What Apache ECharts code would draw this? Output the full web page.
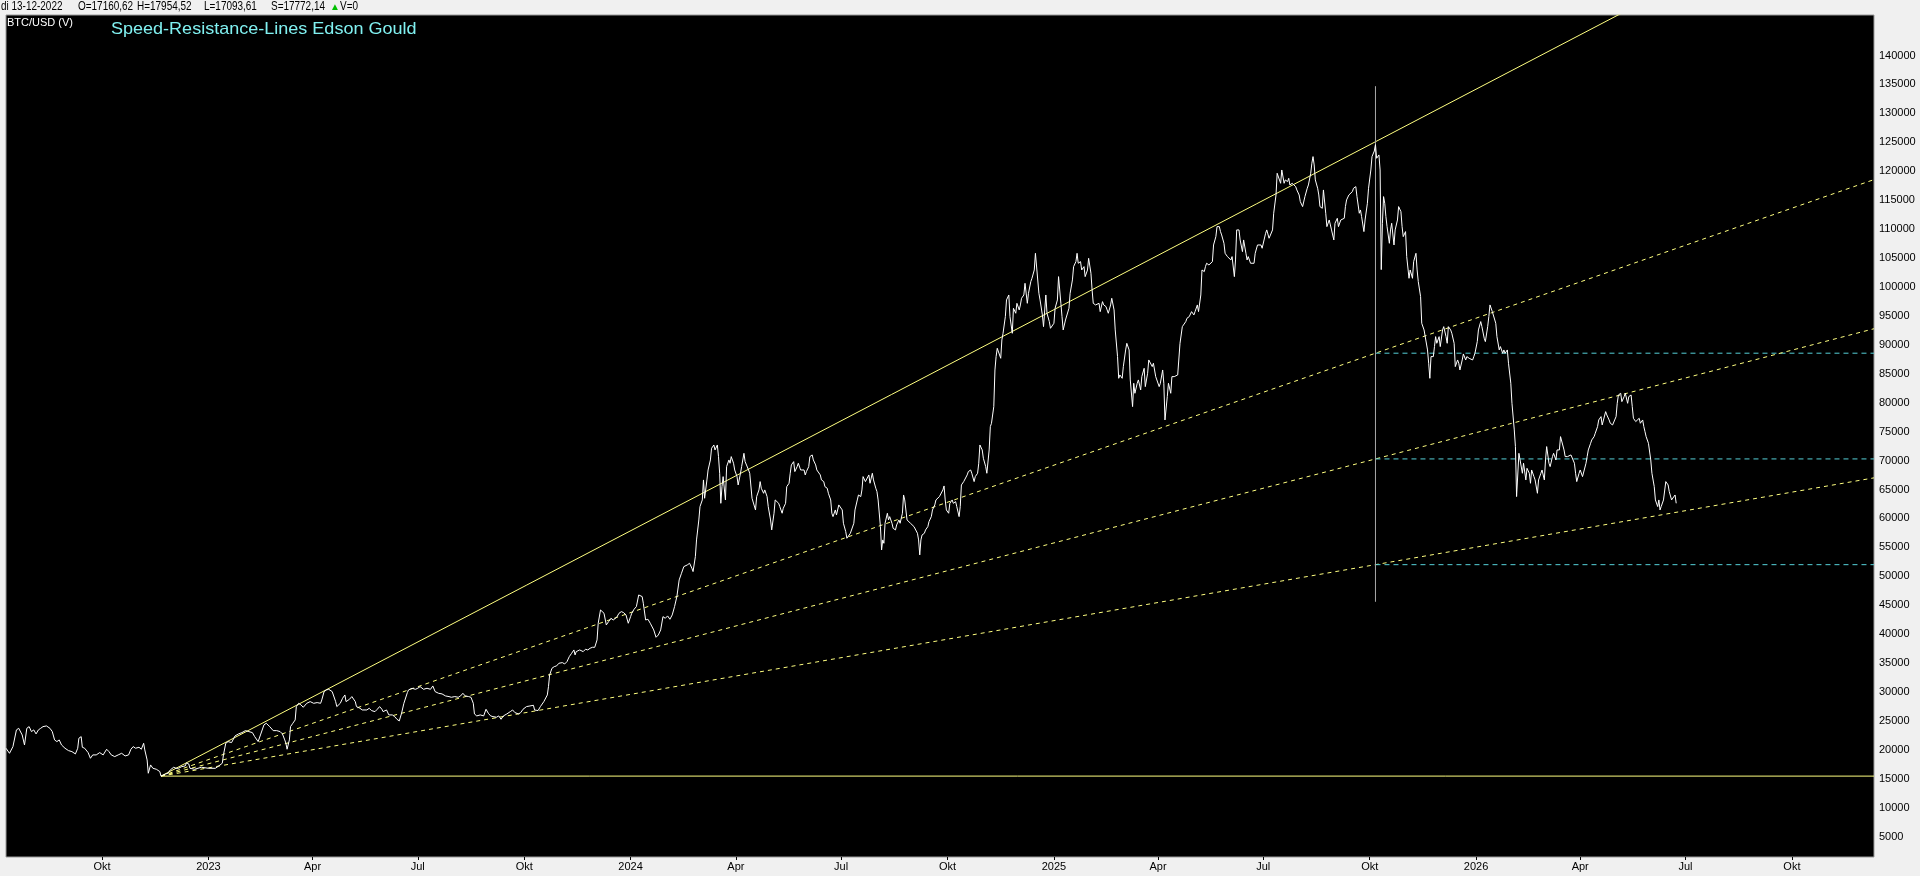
<!DOCTYPE html>
<html>
<head>
<meta charset="utf-8">
<title>BTC/USD Speed-Resistance-Lines</title>
<script src="https://cdn.jsdelivr.net/npm/echarts@6/dist/echarts.min.js"></script>
<style>
  html, body { margin: 0; padding: 0; background: #f0f0f0; }
  #chart { width: 1920px; height: 876px; }
</style>
</head>
<body>
<div id="chart"></div>
<script>
// x axis: one category per calendar day
const firstDay = '2022-07-10';
const lastDay = '2026-12-11';
const quarterNames = { '04': 'Apr', '07': 'Jul', '10': 'Okt' };
const yTickValues = [5000, 10000, 15000, 20000, 25000, 30000, 35000, 40000, 45000, 50000,
  55000, 60000, 65000, 70000, 75000, 80000, 85000, 90000, 95000, 100000, 105000, 110000,
  115000, 120000, 125000, 130000, 135000, 140000];

// BTC/USD closes
const price2022 = [
  ['2022-07-10',20290],['2022-07-13',19420],['2022-07-16',20580],['2022-07-19',23460],['2022-07-21',23740],['2022-07-24',22590],['2022-07-26',20860],['2022-07-28',23740],['2022-07-30',24030],
  ['2022-08-01',23170],['2022-08-03',23460],['2022-08-05',22770],['2022-08-07',23460],['2022-08-09',23740],['2022-08-11',24030],['2022-08-14',24150],['2022-08-17',23740],['2022-08-19',23170],['2022-08-21',21730],['2022-08-23',21440],['2022-08-25',21730],['2022-08-27',20860],['2022-08-30',20290],
  ['2022-09-02',19890],['2022-09-05',19710],['2022-09-08',19310],['2022-09-10',20290],['2022-09-11',22020],['2022-09-13',22300],['2022-09-14',20460],['2022-09-16',20290],['2022-09-19',19540],['2022-09-21',18560],['2022-09-23',19140],['2022-09-26',19140],['2022-09-29',19540],
  ['2022-10-02',19140],['2022-10-05',20120],['2022-10-07',19710],['2022-10-09',19140],['2022-10-12',18850],['2022-10-15',19140],['2022-10-18',19420],['2022-10-21',18960],['2022-10-24',19140],['2022-10-26',20120],['2022-10-28',20580],['2022-10-30',20290],
  ['2022-11-02',20460],['2022-11-04',20120],['2022-11-06',21150],['2022-11-07',20000],['2022-11-09',18270],['2022-11-10',15970],['2022-11-12',17410],['2022-11-14',16830],['2022-11-17',16660],['2022-11-20',16260],['2022-11-21',15480],['2022-11-25',15850],['2022-11-27',15970],['2022-11-29',16540],
  ['2022-12-02',17010],['2022-12-04',16830],['2022-12-06',16830],['2022-12-09',17120],['2022-12-12',17240],['2022-12-13',17770],['2022-12-15',17580],['2022-12-16',16830],['2022-12-20',16660],['2022-12-26',17010]
];
const price2023 = [
  ['2023-01-01',16830],['2023-01-07',16830],['2023-01-10',17240],['2023-01-13',17700],['2023-01-14',19140],['2023-01-16',21150],['2023-01-18',21440],['2023-01-21',21270],['2023-01-24',22420],['2023-01-27',22770],['2023-01-30',23000],
  ['2023-02-02',23340],['2023-02-05',23170],['2023-02-08',23000],['2023-02-10',22300],['2023-02-13',21440],['2023-02-15',22590],['2023-02-18',24320],['2023-02-20',24610],['2023-02-23',24030],['2023-02-26',23340],
  ['2023-03-01',23340],['2023-03-04',23170],['2023-03-06',22770],['2023-03-08',21730],['2023-03-09',21150],['2023-03-10',20120],['2023-03-12',21730],['2023-03-13',24030],['2023-03-15',24610],['2023-03-17',25180],['2023-03-18',27490],['2023-03-20',28060],['2023-03-22',27780],['2023-03-24',27370],['2023-03-27',28060],['2023-03-30',28350],
  ['2023-04-02',28060],['2023-04-05',28180],['2023-04-08',28060],['2023-04-09',28640],['2023-04-11',30080],['2023-04-13',30370],['2023-04-15',30480],['2023-04-16',30480],['2023-04-18',30080],['2023-04-19',29790],['2023-04-21',28350],['2023-04-22',27490],['2023-04-23',27200],['2023-04-25',28060],['2023-04-27',28930],['2023-04-29',29500],['2023-04-30',28350],
  ['2023-05-01',28060],['2023-05-03',28760],['2023-05-05',29220],['2023-05-06',29500],['2023-05-08',28350],['2023-05-09',27490],['2023-05-12',27200],['2023-05-14',26910],['2023-05-15',27200],['2023-05-18',26910],['2023-05-20',27200],['2023-05-22',26800],['2023-05-25',26620],['2023-05-27',27030],['2023-05-29',27490],['2023-05-31',27030],
  ['2023-06-01',26620],['2023-06-04',26910],['2023-06-06',26050],['2023-06-07',26220],['2023-06-09',26050],['2023-06-11',25760],['2023-06-13',25300],['2023-06-15',25010],['2023-06-17',26340],['2023-06-19',28060],['2023-06-22',29910],['2023-06-23',30370],['2023-06-26',30660],['2023-06-29',30480],
  ['2023-07-01',30660],['2023-07-03',30940],['2023-07-06',30480],['2023-07-09',30660],['2023-07-12',30480],['2023-07-14',31060],['2023-07-16',30080],['2023-07-19',29790],['2023-07-22',29680],['2023-07-25',29330],['2023-07-28',29220],['2023-07-30',29100],
  ['2023-08-02',29220],['2023-08-05',29100],['2023-08-07',29330],['2023-08-09',29790],['2023-08-11',29330],['2023-08-14',29220],['2023-08-16',29100],['2023-08-18',28060],['2023-08-19',26220],['2023-08-21',25880],['2023-08-24',26050],['2023-08-27',25880],['2023-08-29',27030],['2023-08-31',26340],
  ['2023-09-02',25880],['2023-09-04',25760],['2023-09-07',25650],['2023-09-09',25880],['2023-09-11',25300],['2023-09-13',25880],['2023-09-16',26220],['2023-09-19',26620],['2023-09-21',26910],['2023-09-23',26450],['2023-09-26',26220],['2023-09-28',26450],['2023-09-30',27030],
  ['2023-10-03',27490],['2023-10-06',27600],['2023-10-09',27720],['2023-10-10',26910],['2023-10-13',26800],['2023-10-15',27490],['2023-10-18',28350],['2023-10-21',29500],['2023-10-22',30940],['2023-10-23',32960],['2023-10-25',34110],['2023-10-27',34400],['2023-10-29',34520],['2023-10-31',34980],
  ['2023-11-03',35090],['2023-11-05',34860],['2023-11-07',35260],['2023-11-09',36130],['2023-11-11',36700],['2023-11-13',37280],['2023-11-14',36420],['2023-11-15',36990],['2023-11-18',37280],['2023-11-21',36990],['2023-11-23',37400],['2023-11-25',37280],['2023-11-27',37570],['2023-11-29',37740],
  ['2023-12-01',37740],['2023-12-03',39010],['2023-12-04',41890],['2023-12-06',44190],['2023-12-07',43900],['2023-12-09',43620],['2023-12-10',43330],['2023-12-11',41600],['2023-12-13',42180],['2023-12-15',42750],['2023-12-17',42460],['2023-12-20',42930],['2023-12-22',43620],['2023-12-24',43900],['2023-12-26',43730],['2023-12-28',43330],['2023-12-30',41890]
];
const price2024 = [
  ['2024-01-01',43040],['2024-01-02',43620],['2024-01-04',44310],['2024-01-06',44770],['2024-01-08',46780],['2024-01-09',47070],['2024-01-11',46500],['2024-01-12',45340],['2024-01-14',42460],['2024-01-16',42580],['2024-01-18',41890],['2024-01-21',40740],['2024-01-23',39470],['2024-01-25',39870],['2024-01-27',40740],['2024-01-29',43040],['2024-01-31',42750],
  ['2024-02-02',43160],['2024-02-04',42580],['2024-02-06',43330],['2024-02-08',44770],['2024-02-10',46500],['2024-02-12',49380],['2024-02-14',50530],['2024-02-16',51680],['2024-02-19',51970],['2024-02-21',52260],['2024-02-23',51390],['2024-02-24',50820],['2024-02-26',53410],['2024-02-27',56290],['2024-02-29',59740],
  ['2024-03-01',62050],['2024-03-03',63200],['2024-03-04',66660],['2024-03-05',63490],['2024-03-07',66660],['2024-03-08',68380],['2024-03-10',70110],['2024-03-11',72130],['2024-03-13',72700],['2024-03-14',71840],['2024-03-16',72700],['2024-03-17',70690],['2024-03-18',67810],['2024-03-19',62620],['2024-03-20',65500],['2024-03-21',67230],['2024-03-23',63200],['2024-03-24',68960],['2024-03-26',70110],['2024-03-27',69540],['2024-03-28',70690],['2024-03-30',69540],['2024-03-31',68380],
  ['2024-04-02',67230],['2024-04-03',65790],['2024-04-05',67810],['2024-04-06',68960],['2024-04-08',71260],['2024-04-09',69820],['2024-04-10',70110],['2024-04-12',68380],['2024-04-13',67810],['2024-04-15',63490],['2024-04-16',63200],['2024-04-18',61470],['2024-04-19',63780],['2024-04-21',64930],['2024-04-22',66370],['2024-04-23',65220],['2024-04-25',64350],['2024-04-26',64930],['2024-04-28',63780],['2024-04-29',62050],
  ['2024-05-01',59740],['2024-05-02',58020],['2024-05-04',60900],['2024-05-05',63200],['2024-05-06',63490],['2024-05-08',62620],['2024-05-09',62050],['2024-05-11',60900],['2024-05-12',61760],['2024-05-14',62620],['2024-05-15',65500],['2024-05-17',66080],['2024-05-18',67810],['2024-05-19',69250],['2024-05-21',69820],['2024-05-22',68100],['2024-05-24',68960],['2024-05-25',69540],['2024-05-27',68380],['2024-05-28',68100],['2024-05-30',68380],['2024-05-31',67520],
  ['2024-06-01',68100],['2024-06-03',68960],['2024-06-04',70690],['2024-06-06',70980],['2024-06-07',70110],['2024-06-09',69250],['2024-06-10',68380],['2024-06-11',68100],['2024-06-13',67520],['2024-06-14',66660],['2024-06-16',66370],['2024-06-17',65500],['2024-06-19',65220],['2024-06-20',64350],['2024-06-22',63200],['2024-06-23',60900],['2024-06-24',60320],['2024-06-26',61470],['2024-06-27',60610],['2024-06-29',62340],['2024-06-30',62620],
  ['2024-07-02',61470],['2024-07-03',59170],['2024-07-05',57730],['2024-07-06',56580],['2024-07-07',56860],['2024-07-09',57440],['2024-07-10',57730],['2024-07-12',59170],['2024-07-13',61470],['2024-07-15',63200],['2024-07-16',64060],['2024-07-18',63780],['2024-07-19',64930],['2024-07-20',67230],['2024-07-22',66370],['2024-07-23',66080],['2024-07-25',67520],['2024-07-26',66080],['2024-07-28',67810],['2024-07-29',66660],['2024-07-31',65220],
  ['2024-08-01',64640],['2024-08-02',63200],['2024-08-04',58590],['2024-08-05',54560],['2024-08-06',56290],['2024-08-07',55710],['2024-08-08',59170],['2024-08-10',60900],['2024-08-11',59740],['2024-08-12',60320],['2024-08-14',59170],['2024-08-15',58300],['2024-08-17',58020],['2024-08-18',58880],['2024-08-20',59740],['2024-08-21',59170],['2024-08-23',60900],['2024-08-24',64060],['2024-08-25',63200],['2024-08-27',59740],['2024-08-28',60030],['2024-08-30',59170],['2024-08-31',58880],
  ['2024-09-02',58590],['2024-09-03',58300],['2024-09-05',57440],['2024-09-06',56290],['2024-09-07',53700],['2024-09-08',56290],['2024-09-09',57150],['2024-09-11',57440],['2024-09-12',58020],['2024-09-14',58590],['2024-09-15',59460],['2024-09-17',60320],['2024-09-18',61470],['2024-09-20',62340],['2024-09-21',63200],['2024-09-22',63490],['2024-09-24',63780],['2024-09-25',64060],['2024-09-27',64930],['2024-09-28',65620],['2024-09-29',63200],['2024-09-30',61470],
  ['2024-10-02',60900],['2024-10-03',62620],['2024-10-05',63200],['2024-10-06',62620],['2024-10-08',62910],['2024-10-09',62050],['2024-10-11',60320],['2024-10-12',62050],['2024-10-13',65790],['2024-10-15',66370],['2024-10-16',66660],['2024-10-18',67520],['2024-10-19',68100],['2024-10-21',68380],['2024-10-22',67810],['2024-10-24',66370],['2024-10-25',67230],['2024-10-27',67810],['2024-10-28',69540],['2024-10-29',72700],['2024-10-31',71840],
  ['2024-11-01',70400],['2024-11-03',68960],['2024-11-04',67810],['2024-11-06',71840],['2024-11-07',75870],['2024-11-08',76450],['2024-11-10',79330],['2024-11-11',85660],['2024-11-12',87970],['2024-11-13',89410],['2024-11-14',89700],['2024-11-16',87680],['2024-11-17',90850],['2024-11-18',92000],['2024-11-20',94880],['2024-11-21',97760],['2024-11-23',98620],['2024-11-24',94880],['2024-11-26',92000],['2024-11-27',96320],['2024-11-29',95460],['2024-11-30',97180],
  ['2024-12-02',96030],['2024-12-03',96900],['2024-12-04',98050],['2024-12-06',98620],['2024-12-07',100640],['2024-12-09',97180],['2024-12-10',98910],['2024-12-12',100930],['2024-12-13',101500],['2024-12-15',102940],['2024-12-16',105820],['2024-12-17',105820],['2024-12-19',98910],['2024-12-20',97760],['2024-12-22',95170],['2024-12-23',93150],['2024-12-25',98620],['2024-12-26',95460],['2024-12-28',94020],['2024-12-29',92860],['2024-12-30',92580]
];
const price2025 = [
  ['2025-01-01',93730],['2025-01-02',96320],['2025-01-04',97760],['2025-01-05',101790],['2025-01-07',97180],['2025-01-08',94880],['2025-01-09',92580],['2025-01-11',94300],['2025-01-12',94590],['2025-01-14',96320],['2025-01-15',98910],['2025-01-17',101220],['2025-01-18',103520],['2025-01-20',104380],['2025-01-21',105820],['2025-01-22',104100],['2025-01-24',104380],['2025-01-25',102940],['2025-01-27',103520],['2025-01-28',101790],['2025-01-30',102940],['2025-01-31',104960],
  ['2025-02-02',102370],['2025-02-03',99490],['2025-02-04',97180],['2025-02-06',96900],['2025-02-07',96610],['2025-02-09',97180],['2025-02-10',95740],['2025-02-12',97470],['2025-02-13',96900],['2025-02-15',96610],['2025-02-16',96030],['2025-02-17',95460],['2025-02-19',96900],['2025-02-20',98050],['2025-02-22',96030],['2025-02-23',92580],['2025-02-25',87970],['2025-02-26',84220],['2025-02-27',84800],
  ['2025-03-01',84220],['2025-03-02',86240],['2025-03-04',89120],['2025-03-05',90270],['2025-03-07',89120],['2025-03-08',83940],['2025-03-10',79330],['2025-03-11',83360],['2025-03-12',81630],['2025-03-14',83360],['2025-03-15',83940],['2025-03-17',82210],['2025-03-18',84510],['2025-03-20',85950],['2025-03-21',82780],['2025-03-23',85090],['2025-03-24',87390],['2025-03-25',87390],['2025-03-27',86240],['2025-03-28',86820],['2025-03-30',84510],['2025-03-31',84800],
  ['2025-04-02',82780],['2025-04-03',83360],['2025-04-05',85660],['2025-04-06',83360],['2025-04-07',77020],['2025-04-09',81060],['2025-04-10',83360],['2025-04-12',81630],['2025-04-13',84510],['2025-04-15',84510],['2025-04-16',84800],['2025-04-18',84800],['2025-04-19',85090],['2025-04-20',90270],['2025-04-22',93150],['2025-04-23',93440],['2025-04-25',94020],['2025-04-26',94590],['2025-04-28',94880],['2025-04-29',94880],['2025-04-30',95740],
  ['2025-05-02',95170],['2025-05-03',95740],['2025-05-05',96900],['2025-05-06',95740],['2025-05-08',98620],['2025-05-09',102940],['2025-05-11',102660],['2025-05-12',103520],['2025-05-13',104100],['2025-05-15',103810],['2025-05-16',103520],['2025-05-18',104380],['2025-05-19',107260],['2025-05-21',108700],['2025-05-22',110430],['2025-05-24',110430],['2025-05-25',109570],['2025-05-26',108990],['2025-05-28',107550],['2025-05-29',105820],['2025-05-31',105250],
  ['2025-06-01',105250],['2025-06-03',104670],['2025-06-04',105250],['2025-06-06',101790],['2025-06-07',104670],['2025-06-08',109860],['2025-06-10',109860],['2025-06-11',108130],['2025-06-13',106110],['2025-06-14',108130],['2025-06-16',105820],['2025-06-17',104670],['2025-06-18',105250],['2025-06-20',104100],['2025-06-21',103810],['2025-06-23',104100],['2025-06-24',105820],['2025-06-26',107260],['2025-06-27',106980],['2025-06-29',107260],['2025-06-30',106690],
  ['2025-07-01',106400],['2025-07-03',109280],['2025-07-04',109860],['2025-07-06',108420],['2025-07-07',108130],['2025-07-09',109860],['2025-07-10',112740],['2025-07-12',115900],['2025-07-13',119650],['2025-07-14',119360],['2025-07-16',117920],['2025-07-17',120220],['2025-07-19',117920],['2025-07-20',118500],['2025-07-22',118210],['2025-07-23',118780],['2025-07-24',117630],['2025-07-26',117920],['2025-07-27',117630],['2025-07-29',117340],['2025-07-30',116770],
  ['2025-08-01',115900],['2025-08-02',114750],['2025-08-04',113890],['2025-08-05',113600],['2025-08-06',115620],['2025-08-08',117060],['2025-08-09',117630],['2025-08-11',119650],['2025-08-12',121380],['2025-08-13',122530],['2025-08-14',121090],['2025-08-15',118500],['2025-08-17',117060],['2025-08-18',115900],['2025-08-19',113890],['2025-08-21',113600],['2025-08-22',116770],['2025-08-24',112740],['2025-08-25',110430],['2025-08-27',111580],['2025-08-28',111870],['2025-08-29',109860],['2025-08-31',108130],
  ['2025-09-01',111010],['2025-09-03',111870],['2025-09-04',110430],['2025-09-06',111580],['2025-09-07',111300],['2025-09-09',111870],['2025-09-10',113890],['2025-09-11',115040],['2025-09-13',115900],['2025-09-14',116190],['2025-09-16',116480],['2025-09-17',117060],['2025-09-19',117340],['2025-09-20',115620],['2025-09-22',112740],['2025-09-23',113310],['2025-09-24',112160],['2025-09-26',109570],['2025-09-27',111580],['2025-09-29',114460],['2025-09-30',117060],
  ['2025-10-02',120220],['2025-10-03',122530],['2025-10-05',123500],['2025-10-06',124600],['2025-10-07',122240],['2025-10-09',122820],['2025-10-10',120220],['2025-10-11',103000],['2025-10-12',111010],['2025-10-13',115620],['2025-10-14',114460],['2025-10-15',112160],['2025-10-16',110430],['2025-10-18',107550],['2025-10-19',109860],['2025-10-20',111010],['2025-10-22',107260],['2025-10-23',109860],['2025-10-25',111580],['2025-10-26',113890],['2025-10-28',113020],['2025-10-29',110430],['2025-10-30',108700],
  ['2025-11-01',109570],['2025-11-02',105250],['2025-11-04',101500],['2025-11-05',102940],['2025-11-07',101500],['2025-11-08',104380],['2025-11-10',105820],['2025-11-11',102940],['2025-11-12',100930],['2025-11-14',98340],['2025-11-15',93730],['2025-11-17',92580],['2025-11-18',92290],['2025-11-20',89120],['2025-11-21',86820],['2025-11-22',84220],['2025-11-23',87970],['2025-11-25',87970],['2025-11-26',89700],['2025-11-27',91420],['2025-11-28',90270],['2025-11-30',91420],
  ['2025-12-01',89700],['2025-12-03',92580],['2025-12-04',93150],['2025-12-06',91420],['2025-12-07',90270],['2025-12-08',93150],['2025-12-10',92580],['2025-12-11',92000],['2025-12-13',90270],['2025-12-14',86240],['2025-12-16',87390],['2025-12-17',86820],['2025-12-18',85660],['2025-12-20',87390],['2025-12-21',88430],['2025-12-23',87390],['2025-12-24',87970],['2025-12-26',87680],['2025-12-27',87970],['2025-12-29',87390],['2025-12-30',87970],['2025-12-31',88540]
];
const price2026 = [
  ['2026-01-02',90560],['2026-01-03',92580],['2026-01-05',94020],['2026-01-06',93150],['2026-01-08',91140],['2026-01-09',90560],['2026-01-11',93150],['2026-01-12',94880],['2026-01-13',96900],['2026-01-15',95740],['2026-01-16',95460],['2026-01-18',93730],['2026-01-19',91420],['2026-01-21',89120],['2026-01-22',89700],['2026-01-24',88540],['2026-01-25',89120],['2026-01-26',88540],['2026-01-28',89120],['2026-01-29',86820],['2026-01-31',83360],
  ['2026-02-01',79900],['2026-02-03',75300],['2026-02-04',72420],['2026-02-05',63780],['2026-02-07',71260],['2026-02-08',70110],['2026-02-10',67810],['2026-02-11',69540],['2026-02-13',66660],['2026-02-14',68670],['2026-02-16',67810],['2026-02-17',66080],['2026-02-18',68380],['2026-02-20',67230],['2026-02-21',66660],['2026-02-23',64350],['2026-02-24',66660],['2026-02-26',67810],['2026-02-27',68380],
  ['2026-03-01',66660],['2026-03-02',70110],['2026-03-03',72420],['2026-03-05',69540],['2026-03-06',68960],['2026-03-08',70690],['2026-03-09',71260],['2026-03-11',70110],['2026-03-12',71840],['2026-03-14',71840],['2026-03-15',74140],['2026-03-16',74140],['2026-03-18',71840],['2026-03-19',70690],['2026-03-21',70690],['2026-03-22',70690],['2026-03-24',70980],['2026-03-25',70690],['2026-03-27',69540],['2026-03-28',67810],['2026-03-29',66370],['2026-03-31',67810],
  ['2026-04-01',68380],['2026-04-03',67230],['2026-04-04',67230],['2026-04-06',69540],['2026-04-07',70690],['2026-04-08',71840],['2026-04-10',72990],['2026-04-11',73570],['2026-04-13',74140],['2026-04-14',74720],['2026-04-16',75870],['2026-04-17',77020],['2026-04-19',77600],['2026-04-20',76160],['2026-04-21',75870],['2026-04-23',78460],['2026-04-24',77890],['2026-04-26',77020],['2026-04-27',76450],['2026-04-29',76160],['2026-04-30',75870],
  ['2026-05-02',77600],['2026-05-03',79900],['2026-05-04',81340],['2026-05-06',81630],['2026-05-07',80190],['2026-05-09',81060],['2026-05-10',81630],['2026-05-12',79900],['2026-05-13',81060],['2026-05-15',81340],['2026-05-16',79330],['2026-05-17',77310],['2026-05-19',76740],['2026-05-20',77020],['2026-05-22',77310],['2026-05-23',76450],['2026-05-25',77020],['2026-05-26',75870],['2026-05-27',75010],['2026-05-28',74140],['2026-05-30',72990],
  ['2026-06-01',70110],['2026-06-02',67810],['2026-06-04',65500],['2026-06-05',63200],['2026-06-07',62050],['2026-06-08',63200],['2026-06-09',61470],['2026-06-10',62050],['2026-06-12',63200],['2026-06-14',66370],['2026-06-16',65790],['2026-06-17',64640],['2026-06-19',63200],['2026-06-20',62910],['2026-06-22',64060],['2026-06-23',62620]
];

// speed-resistance anchors: swing low, swing high, fractions of the move
const fanLow = ['2022-11-21', 15476];
const fanHigh = ['2025-10-06', 125100];
const speedLevels = [2 / 3, 1 / 2, 1 / 3];
// vertical marker at the swing high: date, top value, bottom value
const markerLine = ['2025-10-06', 134700, 45600];

function dayList(from, to) {
  const out = [];
  let t = Date.parse(from + 'T00:00:00Z');
  const end = Date.parse(to + 'T00:00:00Z');
  while (t <= end) {
    out.push(new Date(t).toISOString().slice(0, 10));
    t += 86400000;
  }
  return out;
}

const days = dayList(firstDay, lastDay);
const dayIndex = {};
days.forEach((d, i) => { dayIndex[d] = i; });

const priceData = [].concat(price2022, price2023, price2024, price2025, price2026)
  .map(([d, v]) => [dayIndex[d], v]);

const iLow = dayIndex[fanLow[0]];
const iHigh = dayIndex[fanHigh[0]];
const iEnd = days.length - 1;
const move = fanHigh[1] - fanLow[1];

// value of a speed line (fraction of the move) at the right edge
function speedAtEnd(frac) {
  return fanLow[1] + frac * move * (iEnd - iLow) / (iHigh - iLow);
}

function isQuarterStart(d) {
  const m = d.slice(5, 7);
  return d.slice(8) === '01' && (m === '01' || m === '04' || m === '07' || m === '10');
}

const YELLOW = '#ffff80';
const CYAN = '#55d0d8';
const SANS = "'Liberation Sans', Arial, sans-serif";

function lineSeries(data, color, type) {
  return {
    type: 'line',
    data: data,
    showSymbol: false,
    silent: true,
    animation: false,
    lineStyle: { color: color, width: 1, type: type || 'solid' },
    z: 3
  };
}

const series = [];
// horizontal through the swing low
series.push(lineSeries([[iLow, fanLow[1]], [iEnd, fanLow[1]]], YELLOW));
// main line through the high
series.push(lineSeries([[iLow, fanLow[1]], [iEnd, speedAtEnd(1)]], YELLOW));
speedLevels.forEach(f => {
  series.push(lineSeries([[iLow, fanLow[1]], [iEnd, speedAtEnd(f)]], YELLOW, [4, 4]));
  series.push(lineSeries([[iHigh, fanLow[1] + f * move], [iEnd, fanLow[1] + f * move]], CYAN, [5, 4]));
});
series.push(lineSeries([[dayIndex[markerLine[0]], markerLine[1]], [dayIndex[markerLine[0]], markerLine[2]]], '#a8a8a8'));
series.push({
  type: 'line',
  data: priceData,
  showSymbol: false,
  animation: false,
  lineStyle: { color: '#ffffff', width: 1 },
  z: 4
});

// header text pieces: [x, text]
const headerParts = [[1, 'di 13-12-2022'], [78, 'O=17160,62'], [137, 'H=17954,52'], [204, 'L=17093,61'], [271, 'S=17772,14'], [340, 'V=0']];

const graphics = headerParts.map(([x, t]) => ({
  type: 'text', x: x, y: 1, scaleX: 0.83,
  style: { text: t, font: '12px ' + SANS, fill: '#000', textVerticalAlign: 'top' }
}));
graphics.push(
  { type: 'text', x: 330, y: 2, style: { text: '\u25B2', font: '10px ' + SANS, fill: '#00c000', textVerticalAlign: 'top' } },
  { type: 'text', x: 7, y: 17, z: 10, style: { text: 'BTC/USD (V)', font: '11px ' + SANS, fill: '#ffffff', textVerticalAlign: 'top' } },
  { type: 'text', x: 111, y: 21, z: 10, scaleX: 1.06, style: { text: 'Speed-Resistance-Lines Edson Gould', font: '17px ' + SANS, fill: '#80f0f0', textVerticalAlign: 'top' } }
);

const chart = echarts.init(document.getElementById('chart'));
chart.setOption({
  backgroundColor: '#f0f0f0',
  animation: false,
  grid: {
    left: 6, right: 46, top: 15, bottom: 19,
    show: true,
    backgroundColor: '#000000',
    borderColor: '#9a9a9a',
    borderWidth: 1
  },
  xAxis: {
    type: 'category',
    data: days,
    boundaryGap: false,
    axisLine: { show: false },
    axisTick: {
      show: true,
      interval: (i, v) => isQuarterStart(v),
      length: 3,
      lineStyle: { color: '#000' }
    },
    axisLabel: {
      interval: (i, v) => isQuarterStart(v),
      formatter: v => (v.slice(5, 7) === '01' ? v.slice(0, 4) : quarterNames[v.slice(5, 7)]),
      color: '#000',
      fontFamily: SANS,
      fontSize: 11,
      margin: 4
    },
    splitLine: { show: false }
  },
  yAxis: {
    type: 'value',
    position: 'right',
    min: 1500,
    max: 147000,
    axisLine: { show: false },
    axisTick: { show: false },
    splitLine: { show: false },
    axisLabel: {
      customValues: yTickValues,
      formatter: v => String(v),
      color: '#000',
      fontFamily: SANS,
      fontSize: 11,
      align: 'left',
      margin: 5
    }
  },
  graphic: graphics,
  series: series
});
</script>
</body>
</html>
